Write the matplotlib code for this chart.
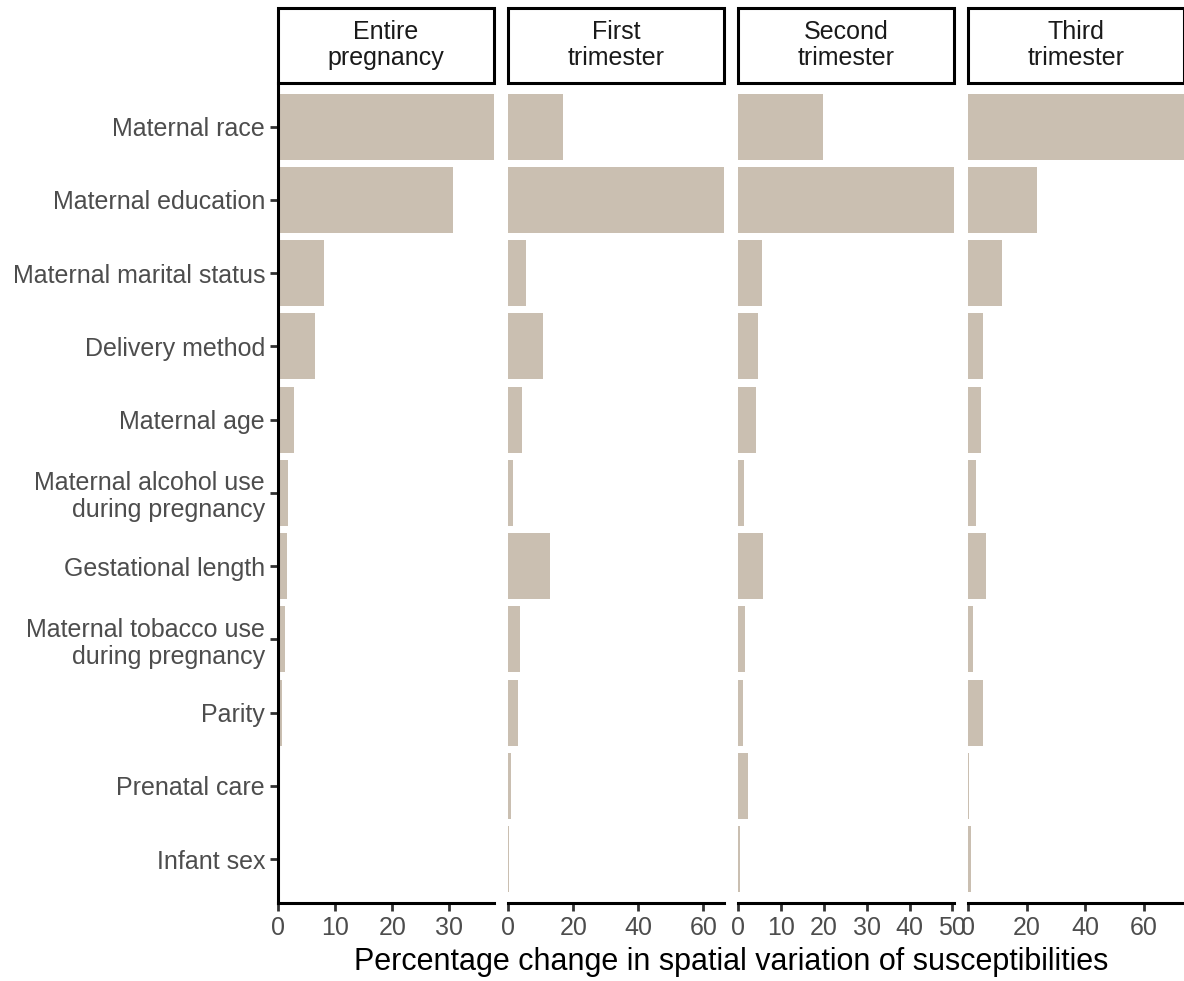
import matplotlib.pyplot as plt
from matplotlib.patches import Rectangle

plt.rcParams['font.family'] = ['Liberation Sans', 'DejaVu Sans']

categories = [
    "Maternal race",
    "Maternal education",
    "Maternal marital status",
    "Delivery method",
    "Maternal age",
    "Maternal alcohol use\nduring pregnancy",
    "Gestational length",
    "Maternal tobacco use\nduring pregnancy",
    "Parity",
    "Prenatal care",
    "Infant sex",
]

periods = ["Entire\npregnancy", "First\ntrimester", "Second\ntrimester", "Third\ntrimester"]

entire = [37.8, 30.6, 8.1, 6.5, 2.7, 1.7, 1.5, 1.1, 0.7, 0.0, 0.0]
first = [16.9, 66.2, 5.4, 10.8, 4.3, 1.5, 12.7, 3.7, 2.9, 0.9, 0.35]
second = [19.7, 50.3, 5.5, 4.5, 4.1, 1.3, 5.8, 1.6, 1.2, 2.2, 0.4]
third = [73.6, 23.4, 11.4, 5.1, 4.2, 2.6, 6.0, 1.7, 5.1, 0.35, 1.0]

xticks = [[0, 10, 20, 30], [0, 20, 40, 60], [0, 10, 20, 30, 40, 50], [0, 20, 40, 60]]

BAR = "#cabfb1"
W, H = 1184, 981

fig = plt.figure(figsize=(W / 100, H / 100), dpi=100)

left0, pitch, pw = 278.3, 230.0, 215.3
top_px, bot_px = 82.7, 903.0
strip_top = 8.0

ypos = list(range(len(categories)))

for k, (name, vals) in enumerate(zip(periods, [entire, first, second, third])):
    x0 = left0 + k * pitch
    ax = fig.add_axes([x0 / W, 1 - bot_px / H, pw / W, (bot_px - top_px) / H])
    ax.barh(ypos, vals, height=0.9, color=BAR, linewidth=0)
    ax.set_xlim(0, max(vals))
    ax.set_ylim(len(categories) - 0.4, -0.6)
    ax.set_xticks(xticks[k])
    ax.tick_params(axis='x', length=5.5, width=2, color='#333333',
                   labelsize=18, labelcolor='#4d4d4d', pad=4)
    for s in ['top', 'right']:
        ax.spines[s].set_visible(False)
    ax.spines['bottom'].set_linewidth(2.2)
    ax.spines['bottom'].set_color('black')
    if k == 0:
        ax.spines['left'].set_linewidth(2.2)
        ax.spines['left'].set_color('black')
        ax.set_yticks(ypos)
        ax.set_yticklabels(categories, linespacing=1.15)
        ax.tick_params(axis='y', length=5.5, width=2, color='#333333',
                       labelsize=18, labelcolor='#4d4d4d', pad=4)
    else:
        ax.spines['left'].set_visible(False)
        ax.set_yticks([])

    # facet strip
    fig.patches.append(Rectangle((x0 / W, 1 - top_px / H), pw / W, (top_px - strip_top) / H,
                                 transform=fig.transFigure, facecolor='white',
                                 edgecolor='black', linewidth=2.2, zorder=3))
    fig.text((x0 + pw / 2) / W, 1 - (top_px + strip_top) / 2 / H, name,
             ha='center', va='center', fontsize=18, color='#1a1a1a',
             linespacing=1.1, zorder=4)

fig.text((left0 + 3 * pitch + pw + left0) / 2 / W, 1 - 962 / H,
         "Percentage change in spatial variation of susceptibilities",
         ha='center', va='center', fontsize=22, color='black')

fig.savefig("out.png", dpi=100)
